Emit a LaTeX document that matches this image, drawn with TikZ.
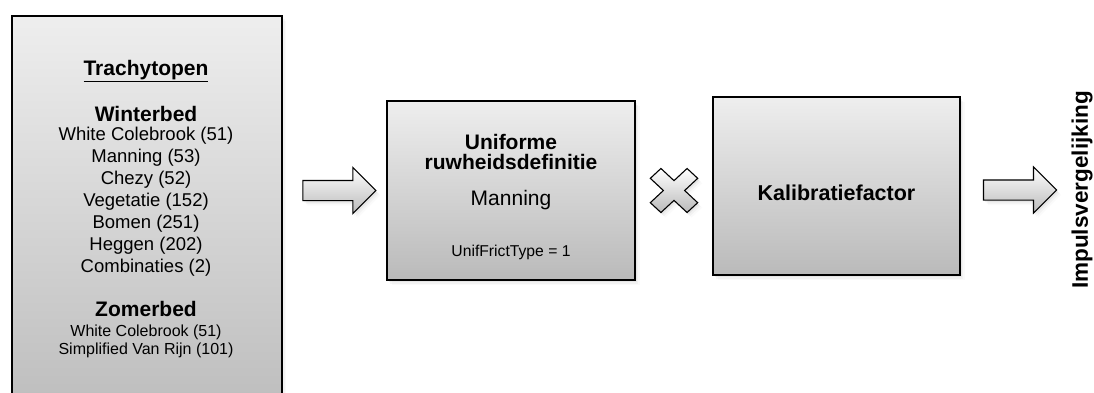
\documentclass[tikz,border=0pt]{standalone}
\usepackage{fontspec}
\setmainfont{Liberation Sans}
\usetikzlibrary{shapes.arrows,shadows,calc}
\definecolor{gtop}{RGB}{238,238,238}
\definecolor{gbot}{RGB}{186,186,186}
\newcommand{\setfs}[2]{\fontsize{#1}{#2}\selectfont}
\tikzset{
  softshadow/.style={
    drop shadow={opacity=.10, shadow xshift=1.5pt, shadow yshift=-2pt},
    drop shadow={opacity=.07, shadow xshift=3pt, shadow yshift=-3.5pt},
    drop shadow={opacity=.04, shadow xshift=4.5pt, shadow yshift=-5pt}},
  boxstyle/.style={draw=black, line width=1.6pt, top color=gtop, bottom color=gbot,
    inner sep=0pt, softshadow},
  blockarrow/.style={single arrow, draw=black, line width=1.1pt, top color=white,
    bottom color=gbot, inner xsep=0pt, inner ysep=9.5pt, minimum height=73pt,
    single arrow head extend=13pt, single arrow tip angle=90, softshadow},
  head/.style={font=\bfseries\setfs{21}{25}, anchor=base, inner sep=0pt},
  bodytxt/.style={font=\setfs{18.5}{22}, anchor=base, inner sep=0pt},
  smalltxt/.style={font=\setfs{16}{18}, anchor=base, inner sep=0pt},
}
\begin{document}
\begin{tikzpicture}[x=1pt, y=-1pt]
\useasboundingbox (0,0) rectangle (1094,392);
\clip (0,0) rectangle (1094,392);
% boxes
\node[boxstyle, minimum width=270pt, minimum height=420pt, anchor=north west] (trachy) at (11,15) {};
\node[boxstyle, minimum width=248pt, minimum height=179pt] (unif) at (511,190.5) {};
\node[boxstyle, minimum width=247pt, minimum height=178pt] (kalib) at (836.5,186) {};
% left box text
\node[head] (ttitle) at (146,75) {\underline{Trachytopen}};
\node[head] (twinter) at (146,121) {Winterbed};
\foreach \t [count=\i from 0] in {White Colebrook (51), Manning (53), Chezy (52),
  Vegetatie (152), Bomen (251), Heggen (202), Combinaties (2)}
  \node[bodytxt] (w\i) at (146,140+22*\i) {\t};
\node[head] (tzomer) at (146,316) {Zomerbed};
\node[smalltxt] (z1) at (146,336) {White Colebrook (51)};
\node[smalltxt] (z2) at (146,354) {Simplified Van Rijn (101)};
% middle box text
\node[head] (u1) at (511,149) {Uniforme};
\node[head] (u2) at (511,169) {ruwheidsdefinitie};
\node[font=\setfs{21}{25}, anchor=base, inner sep=0pt] (u3) at (511,205) {Manning};
\node[font=\setfs{15.7}{18}, anchor=base, inner sep=0pt] (u4) at (511,256) {UnifFrictType = 1};
% kalibratie text
\node[head, font=\bfseries\setfs{21.5}{25}] (k1) at (836.5,200) {Kalibratiefactor};
% output label
\node[font=\bfseries\setfs{22.5}{26}, rotate=90, inner sep=0pt] (impuls) at (1082,190) {Impulsvergelijking};
% connectors
\node[blockarrow, minimum width=45pt] (arr1) at ($(trachy.east |- unif.west)!.5!(unif.west)$) {};
\node[blockarrow, minimum width=44pt] (arr2) at (1015,190) {};
% multiplication cross
\coordinate (crossc) at ($(unif.east)!.5!(kalib.west |- unif.east)$);
\begin{scope}[shift={(crossc)}, yscale=0.93]
  \begin{scope}[rotate=45]
    \path[draw=black, line width=1.1pt, top color=white, bottom color=gbot, softshadow]
      (26,7.5) -- (7.5,7.5) -- (7.5,26) -- (-7.5,26) -- (-7.5,7.5) -- (-26,7.5)
      -- (-26,-7.5) -- (-7.5,-7.5) -- (-7.5,-26) -- (7.5,-26) -- (7.5,-7.5)
      -- (26,-7.5) -- cycle;
  \end{scope}
\end{scope}
\end{tikzpicture}
\end{document}
